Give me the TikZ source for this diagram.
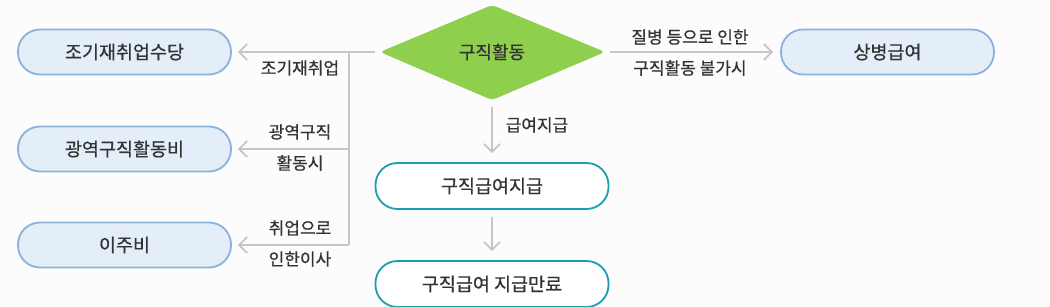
\documentclass[tikz,border=0pt]{standalone}
\usepackage{fontspec}
\setmainfont{Noto Sans CJK KR}[FakeBold=0.6]
\usetikzlibrary{arrows.meta}
\definecolor{bg}{HTML}{FCFCFC}
\definecolor{txt}{HTML}{333333}
\definecolor{lbfill}{HTML}{E3EEF8}
\definecolor{lbdraw}{HTML}{8DB2DA}
\definecolor{teal}{HTML}{1B9CAF}
\definecolor{dgreen}{HTML}{8ECF4E}
\definecolor{arr}{HTML}{C6C6C6}
\tikzset{
  x=1pt, y=-1pt,
  bluebox/.style={draw=lbdraw, fill=lbfill, line width=1.8pt, rounded corners=22pt,
    minimum width=213pt, minimum height=45pt, font=\fontsize{18.5}{22}\selectfont, text=txt, inner sep=0pt},
  tealbox/.style={draw=teal, fill=white, line width=1.8pt, rounded corners=22pt,
    minimum width=233pt, minimum height=46pt, font=\fontsize{18.5}{22}\selectfont, text=txt, inner sep=0pt},
  lbl/.style={font=\fontsize{17}{20}\selectfont, text=txt, inner sep=0pt},
  conn/.style={draw=arr, line width=1.8pt},
  arrow/.style={conn, -{Straight Barb[length=8pt,width=16pt,line width=1.8pt]}},
}
\begin{document}
\begin{tikzpicture}
\fill[bg] (0,0) rectangle (1050,306);
\clip (0,0) rectangle (1050,306);
\useasboundingbox (0,0) rectangle (1050,306);
% diamond
\fill[dgreen, rounded corners=4pt] (380,52) -- (492,5) -- (605,52) -- (492,100) -- cycle;
\node[font=\fontsize{18}{22}\selectfont, text=txt] (dia) at (492,52) {구직활동};
\coordinate (dl) at (375,52);
\coordinate (dr) at (610,52);
\coordinate (db) at (492,107);
% left boxes
\node[bluebox] (b1) at (124.5,52) {조기재취업수당};
\node[bluebox] (b2) at (124.5,149) {광역구직활동비};
\node[bluebox] (b3) at (124.5,245) {이주비};
% right box
\node[bluebox] (b4) at (887.5,52) {상병급여};
% bottom boxes
\node[tealbox] (c1) at (492,186) {구직급여지급};
\node[tealbox] (c2) at (492,284) {구직급여 지급만료};
% junctions
\coordinate (j1) at (349,52);
\coordinate (j2) at (349,149);
\coordinate (j3) at (349,245);
% connectors
\draw[arrow, shorten >=6pt] (dl) -- (b1.east);
\draw[conn] (j1) -- (j3);
\draw[arrow, shorten >=6pt] (j2) -- (b2.east);
\draw[arrow, shorten >=6pt] (j3) -- (b3.east);
\draw[arrow, shorten >=7pt] (dr) -- (b4.west);
\draw[arrow, shorten >=9pt] (db) -- (c1.north);
\draw[arrow, shorten >=9pt, shorten <=7pt] (c1.south) -- (c2.north);
% labels
\node[lbl] (l1) at (300,68) {조기재취업};
\node[lbl] (l2a) at (300,132) {광역구직};
\node[lbl] (l2b) at (300,163) {활동시};
\node[lbl] (l3a) at (300,228) {취업으로};
\node[lbl] (l3b) at (300,259) {인한이사};
\node[lbl] (l4a) at (690,37) {질병 등으로 인한};
\node[lbl] (l4b) at (690,68) {구직활동 불가시};
\node[lbl] (l5) at (537,125) {급여지급};
\end{tikzpicture}
\end{document}
